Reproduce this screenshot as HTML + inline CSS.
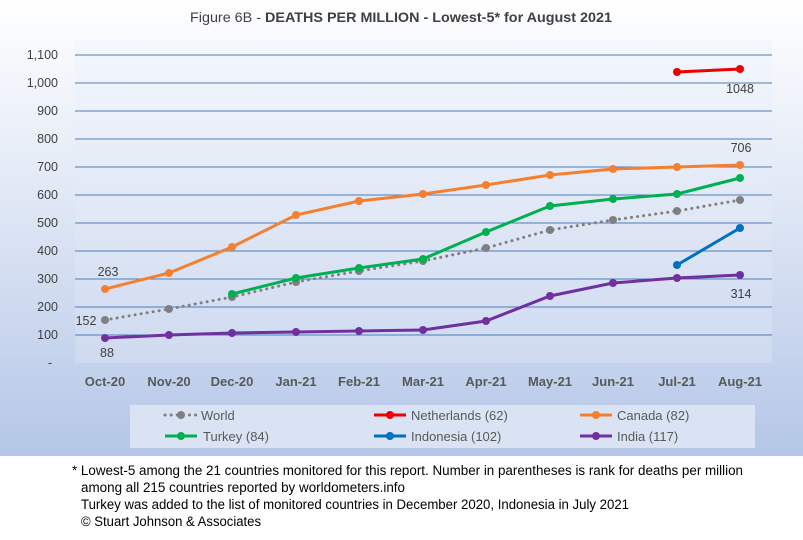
<!DOCTYPE html>
<html><head><meta charset="utf-8"><style>
body{margin:0;width:803px;height:535px;overflow:hidden;background:#fff;font-family:"Liberation Sans",sans-serif}
</style></head><body>
<svg width="803" height="535" xmlns="http://www.w3.org/2000/svg" font-family="Liberation Sans, sans-serif">
<defs>
<linearGradient id="bg" x1="0" y1="0" x2="0" y2="1">
<stop offset="0" stop-color="#ffffff"/><stop offset="0.45" stop-color="#dfe7f5"/><stop offset="1" stop-color="#b4c6e7"/>
</linearGradient>
<linearGradient id="pa" x1="0" y1="0" x2="0" y2="1">
<stop offset="0" stop-color="#f4f7fc"/><stop offset="1" stop-color="#cfdaf0"/>
</linearGradient>
</defs>
<rect x="0" y="0" width="803" height="456" fill="url(#bg)"/>
<rect x="75" y="40" width="697" height="323" fill="url(#pa)"/>
<text x="401" y="22" text-anchor="middle" font-size="14" fill="#404040" textLength="422" lengthAdjust="spacingAndGlyphs">Figure 6B - <tspan font-weight="bold">DEATHS PER MILLION - Lowest-5* for August 2021</tspan></text>
<g stroke="#4a7ebb" stroke-width="1">
<line x1="75" x2="772" y1="55" y2="55"/><line x1="75" x2="772" y1="83" y2="83"/><line x1="75" x2="772" y1="111" y2="111"/><line x1="75" x2="772" y1="139" y2="139"/><line x1="75" x2="772" y1="167" y2="167"/><line x1="75" x2="772" y1="195" y2="195"/><line x1="75" x2="772" y1="223" y2="223"/><line x1="75" x2="772" y1="251" y2="251"/><line x1="75" x2="772" y1="279" y2="279"/><line x1="75" x2="772" y1="307" y2="307"/><line x1="75" x2="772" y1="335" y2="335"/>
</g>
<g font-size="12.5" fill="#404040" text-anchor="end">
<text x="58" y="59">1,100</text><text x="58" y="87">1,000</text><text x="58" y="115">900</text><text x="58" y="143">800</text><text x="58" y="171">700</text><text x="58" y="199">600</text><text x="58" y="227">500</text><text x="58" y="255">400</text><text x="58" y="283">300</text><text x="58" y="311">200</text><text x="58" y="339">100</text><text x="52" y="367">-</text>
</g>
<g font-size="13" font-weight="bold" fill="#595959" text-anchor="middle">
<text x="105" y="386">Oct-20</text><text x="169" y="386">Nov-20</text><text x="232" y="386">Dec-20</text><text x="296" y="386">Jan-21</text><text x="359" y="386">Feb-21</text><text x="423" y="386">Mar-21</text><text x="486" y="386">Apr-21</text><text x="550" y="386">May-21</text><text x="613" y="386">Jun-21</text><text x="677" y="386">Jul-21</text><text x="740" y="386">Aug-21</text>
</g>
<!-- World -->
<g fill="#7f7f7f"><polyline fill="none" stroke="#7f7f7f" stroke-width="3" stroke-dasharray="0.1,6" stroke-linecap="round" points="105,320 169,309 232,297 296,282 359,271 423,261 486,248 550,230 613,220 677,211 740,200"/>
<circle cx="105" cy="320" r="4"/><circle cx="169" cy="309" r="4"/><circle cx="232" cy="297" r="4"/><circle cx="296" cy="282" r="4"/><circle cx="359" cy="271" r="4"/><circle cx="423" cy="261" r="4"/><circle cx="486" cy="248" r="4"/><circle cx="550" cy="230" r="4"/><circle cx="613" cy="220" r="4"/><circle cx="677" cy="211" r="4"/><circle cx="740" cy="200" r="4"/></g>
<!-- Canada -->
<g fill="#f4802f"><polyline fill="none" stroke="#f4802f" stroke-width="3" points="105,289 169,273 232,247 296,215 359,201 423,194 486,185 550,175 613,169 677,167 740,165"/>
<circle cx="105" cy="289" r="4"/><circle cx="169" cy="273" r="4"/><circle cx="232" cy="247" r="4"/><circle cx="296" cy="215" r="4"/><circle cx="359" cy="201" r="4"/><circle cx="423" cy="194" r="4"/><circle cx="486" cy="185" r="4"/><circle cx="550" cy="175" r="4"/><circle cx="613" cy="169" r="4"/><circle cx="677" cy="167" r="4"/><circle cx="740" cy="165" r="4"/></g>
<!-- Turkey -->
<g fill="#00b050"><polyline fill="none" stroke="#00b050" stroke-width="3" points="232,294 296,278 359,268 423,259 486,232 550,206 613,199 677,194 740,178"/>
<circle cx="232" cy="294" r="4"/><circle cx="296" cy="278" r="4"/><circle cx="359" cy="268" r="4"/><circle cx="423" cy="259" r="4"/><circle cx="486" cy="232" r="4"/><circle cx="550" cy="206" r="4"/><circle cx="613" cy="199" r="4"/><circle cx="677" cy="194" r="4"/><circle cx="740" cy="178" r="4"/></g>
<!-- India -->
<g fill="#7030a0"><polyline fill="none" stroke="#7030a0" stroke-width="3" points="105,338 169,335 232,333 296,332 359,331 423,330 486,321 550,296 613,283 677,278 740,275"/>
<circle cx="105" cy="338" r="4"/><circle cx="169" cy="335" r="4"/><circle cx="232" cy="333" r="4"/><circle cx="296" cy="332" r="4"/><circle cx="359" cy="331" r="4"/><circle cx="423" cy="330" r="4"/><circle cx="486" cy="321" r="4"/><circle cx="550" cy="296" r="4"/><circle cx="613" cy="283" r="4"/><circle cx="677" cy="278" r="4"/><circle cx="740" cy="275" r="4"/></g>
<!-- Netherlands -->
<g fill="#ee0000"><polyline fill="none" stroke="#ee0000" stroke-width="3" points="677,72 740,69"/><circle cx="677" cy="72" r="4"/><circle cx="740" cy="69" r="4"/></g>
<!-- Indonesia -->
<g fill="#0070c0"><polyline fill="none" stroke="#0070c0" stroke-width="3" points="677,265 740,228"/><circle cx="677" cy="265" r="4"/><circle cx="740" cy="228" r="4"/></g>
<g font-size="12.5" fill="#404040" text-anchor="middle">
<text x="108" y="276">263</text><text x="86" y="325">152</text><text x="107" y="357">88</text><text x="740" y="93">1048</text><text x="741" y="152">706</text><text x="741" y="298">314</text>
</g>
<!-- legend -->
<rect x="130" y="405" width="625" height="43" fill="#dae3f3"/>
<g font-size="13" fill="#595959">
<line x1="165" x2="197" y1="415" y2="415" stroke="#7f7f7f" stroke-width="3" stroke-dasharray="0.1,6" stroke-linecap="round"/><circle cx="181" cy="415" r="4" fill="#7f7f7f"/><text x="201" y="420">World</text>
<line x1="374" x2="406" y1="415" y2="415" stroke="#ee0000" stroke-width="3"/><circle cx="390" cy="415" r="4" fill="#ee0000"/><text x="411" y="420">Netherlands (62)</text>
<line x1="580" x2="612" y1="415" y2="415" stroke="#f4802f" stroke-width="3"/><circle cx="596" cy="415" r="4" fill="#f4802f"/><text x="617" y="420">Canada (82)</text>
<line x1="165" x2="197" y1="436" y2="436" stroke="#00b050" stroke-width="3"/><circle cx="181" cy="436" r="4" fill="#00b050"/><text x="203" y="441">Turkey (84)</text>
<line x1="374" x2="406" y1="436" y2="436" stroke="#0070c0" stroke-width="3"/><circle cx="390" cy="436" r="4" fill="#0070c0"/><text x="411" y="441">Indonesia (102)</text>
<line x1="580" x2="612" y1="436" y2="436" stroke="#7030a0" stroke-width="3"/><circle cx="596" cy="436" r="4" fill="#7030a0"/><text x="617" y="441">India (117)</text>
</g>
<g font-size="13.5" fill="#000">
<text x="72" y="475" textLength="671" lengthAdjust="spacingAndGlyphs">* Lowest-5 among the 21 countries monitored for this report. Number in parentheses is rank for deaths per million</text>
<text x="81" y="492" textLength="324" lengthAdjust="spacingAndGlyphs">among all 215 countries reported by worldometers.info</text>
<text x="81" y="509" textLength="548" lengthAdjust="spacingAndGlyphs">Turkey was added to the list of monitored countries in December 2020, Indonesia in July 2021</text>
<text x="81" y="526" textLength="180" lengthAdjust="spacingAndGlyphs">© Stuart Johnson &amp; Associates</text>
</g>
</svg>
</body></html>
